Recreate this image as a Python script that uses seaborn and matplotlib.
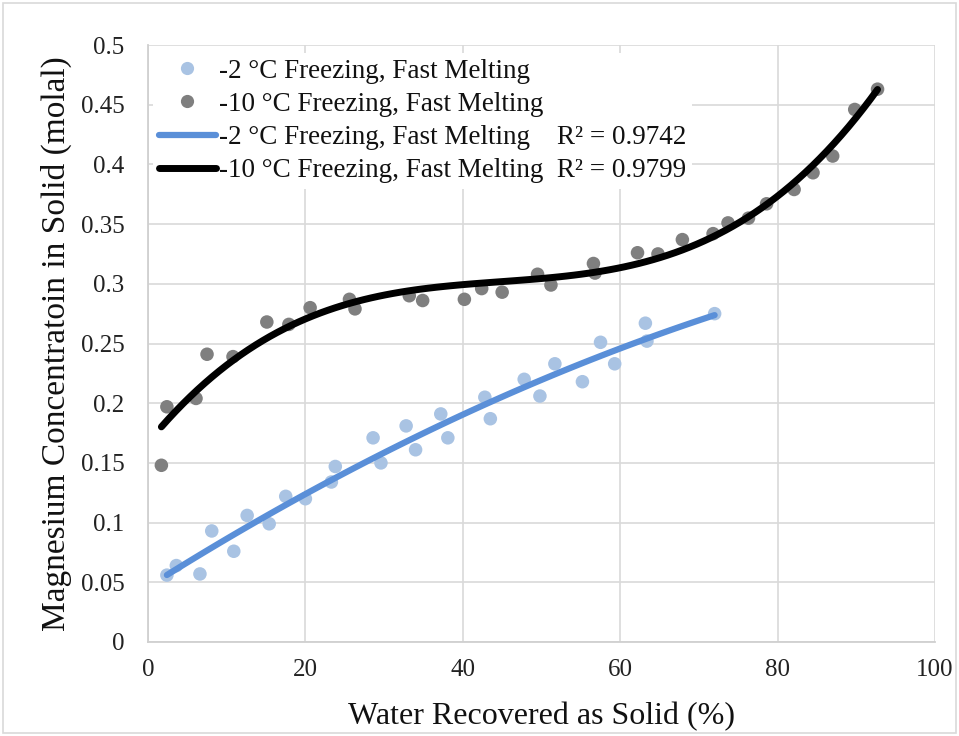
import numpy as np
import pandas as pd
import matplotlib
matplotlib.use("Agg")
import matplotlib.pyplot as plt
import seaborn as sns
from matplotlib.lines import Line2D

# ---- data ----
x_m2 = [2.4, 3.6, 6.6, 8.1, 10.9, 12.6, 15.4, 17.5, 20.0, 23.3, 23.8, 28.6, 29.6,
        32.8, 34.0, 37.2, 38.1, 42.8, 43.5, 47.8, 49.8, 51.7, 55.2, 57.5, 59.3,
        63.2, 63.4, 72.0]
y_m2 = [0.056, 0.064, 0.057, 0.093, 0.076, 0.106, 0.099, 0.122, 0.120, 0.134, 0.147,
        0.171, 0.150, 0.181, 0.161, 0.191, 0.171, 0.205, 0.187, 0.220, 0.206, 0.233,
        0.218, 0.251, 0.233, 0.267, 0.252, 0.275]

x_m10 = [1.7, 2.4, 6.1, 7.5, 10.8, 15.1, 17.9, 20.6, 25.6, 26.3, 33.2, 34.9, 40.2,
         42.4, 45.0, 49.5, 51.2, 56.6, 56.8, 62.2, 64.8, 67.9, 71.8, 73.7, 76.3,
         78.6, 82.1, 84.5, 87.0, 89.8, 92.7]
y_m10 = [0.148, 0.197, 0.204, 0.241, 0.239, 0.268, 0.266, 0.280, 0.287, 0.279, 0.290,
         0.286, 0.287, 0.296, 0.293, 0.308, 0.299, 0.317, 0.309, 0.326, 0.325, 0.337,
         0.342, 0.351, 0.355, 0.367, 0.379, 0.393, 0.407, 0.446, 0.463]

series_labels = ["-2 °C Freezing, Fast Melting", "-10 °C Freezing, Fast Melting"]
r2_labels = ["R² = 0.9742", "R² = 0.9799"]
x_ticks = [0, 20, 40, 60, 80, 100]
y_ticks = [0, 0.05, 0.1, 0.15, 0.2, 0.25, 0.3, 0.35, 0.4, 0.45, 0.5]

df2 = pd.DataFrame({"x": x_m2, "y": y_m2})
df10 = pd.DataFrame({"x": x_m10, "y": y_m10})

sns.set_theme(style="white")
plt.rcParams["font.family"] = ["Liberation Serif", "DejaVu Serif"]

W, H = 959, 736
fig = plt.figure(figsize=(W / 100, H / 100), dpi=100)
ax = fig.add_axes([148 / W, 1 - 642 / H, (935 - 148) / W, (642 - 45) / H])

c_pt2 = "#a9c3e3"
c_pt10 = "#7f7f7f"
c_ln2 = "#5a8fd8"
c_ln10 = "#000000"

sns.scatterplot(data=df2, x="x", y="y", ax=ax, color=c_pt2, s=95,
                edgecolor="none", zorder=3)
sns.scatterplot(data=df10, x="x", y="y", ax=ax, color=c_pt10, s=95,
                edgecolor="none", zorder=3)
sns.regplot(data=df2, x="x", y="y", ax=ax, order=2, ci=None, scatter=False,
            truncate=True, line_kws=dict(color=c_ln2, lw=4.5, solid_capstyle="round", zorder=4))
sns.regplot(data=df10, x="x", y="y", ax=ax, order=3, ci=None, scatter=False,
            truncate=True, line_kws=dict(color=c_ln10, lw=5, solid_capstyle="round", zorder=4))

ax.set_xlim(0, 100)
ax.set_ylim(0, 0.5)
ax.set_xticks(x_ticks)
ax.set_yticks(y_ticks)
ax.set_yticklabels([f"{v:g}" for v in y_ticks])
ax.set_xticklabels([str(v) for v in x_ticks])
ax.tick_params(axis="both", length=0, labelsize=18, colors="#222222")
ax.tick_params(axis="y", pad=17)
ax.tick_params(axis="x", pad=12)
ax.grid(True, color="#d9d9d9", lw=1.2)
ax.set_axisbelow(True)
for side in ["top", "right"]:
    ax.spines[side].set_visible(False)
for side in ["left", "bottom"]:
    ax.spines[side].set_color("#d0d0d0")
    ax.spines[side].set_linewidth(1.3)

ax.set_xlabel("Water Recovered as Solid (%)", fontsize=23, color="#111111", labelpad=15)
ax.set_ylabel("Magnesium Concentratoin in Solid (molal)", fontsize=24, color="#111111", labelpad=6)

handles = [
    Line2D([], [], ls="none", marker="o", ms=9.5, mfc=c_pt2, mec="none"),
    Line2D([], [], ls="none", marker="o", ms=9.5, mfc=c_pt10, mec="none"),
    Line2D([], [], color=c_ln2, lw=4.5, solid_capstyle="round"),
    Line2D([], [], color=c_ln10, lw=5, solid_capstyle="round"),
]
labels = [
    series_labels[0],
    series_labels[1],
    series_labels[0] + "    " + r2_labels[0],
    series_labels[1] + "  " + r2_labels[1],
]
leg = ax.legend(handles, labels, loc="upper left", bbox_to_anchor=(0.0, 0.995),
                frameon=True, framealpha=1, facecolor="white", edgecolor="none",
                fontsize=19.5, handlelength=2.1, handletextpad=0.12, labelspacing=0.3,
                borderpad=0.2, borderaxespad=0.2)
for t in leg.get_texts():
    t.set_color("#111111")

# outer chart border
fig.patches.append(plt.Rectangle((3 / W, 3 / H), 1 - 6 / W, 1 - 6 / H,
                                 transform=fig.transFigure, fill=False,
                                 edgecolor="#d9d9d9", lw=1.2))

fig.savefig("out.png", dpi=100)
